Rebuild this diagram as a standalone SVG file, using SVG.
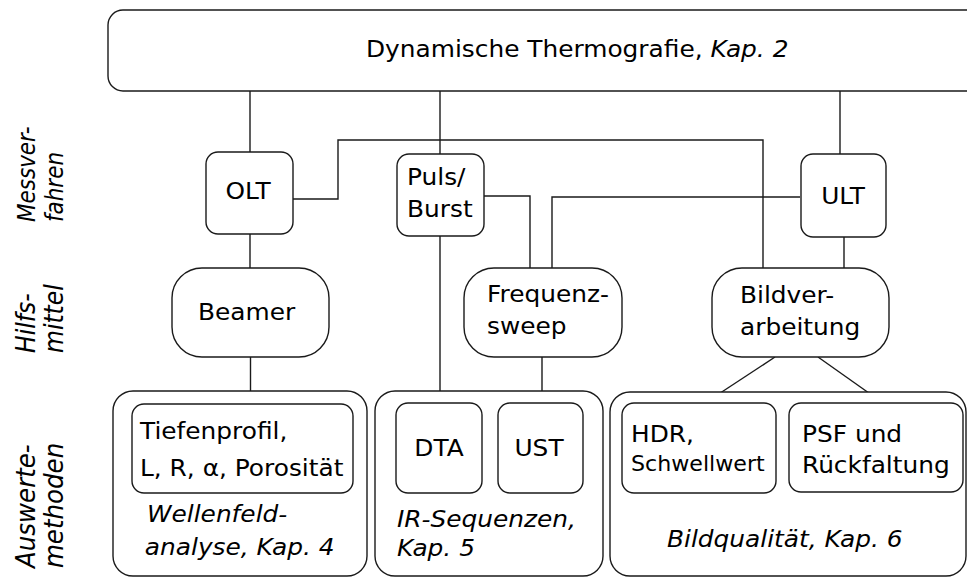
<svg xmlns="http://www.w3.org/2000/svg" width="967" height="577" viewBox="0 0 967 577">
<style>
  rect { fill: #fff; stroke: #1a1a1a; stroke-width: 1.4; }
  .c line, .c polyline { fill: none; stroke: #1a1a1a; stroke-width: 1.4; }
  text { font-family: "DejaVu Sans", "Liberation Sans", sans-serif; font-size: 23px; fill: #000; }
  .i { font-style: italic; }
  .s { font-size: 20.5px; }
  .r1 { font-size: 21.5px; }
  .r2 { font-size: 23.5px; }
  .r3 { font-size: 24.5px; }
</style>
<rect x="0" y="0" width="967" height="577" style="fill:#fff;stroke:none"/>

<g class="c" id="connectors">
  <line x1="250" y1="91" x2="250" y2="152"/>
  <line x1="250" y1="234" x2="250" y2="268"/>
  <line x1="250.5" y1="357" x2="250.5" y2="404"/>
  <line x1="440" y1="91" x2="440" y2="154"/>
  <line x1="440" y1="236" x2="440" y2="403"/>
  <line x1="840" y1="91" x2="840" y2="154"/>
  <line x1="844" y1="237" x2="844" y2="268"/>
  <polyline points="293,199 338,199 338,140 763,140 763,268"/>
  <polyline points="484,196 530,196 530,268"/>
  <polyline points="800,197 552,197 552,268"/>
  <line x1="542" y1="357" x2="542" y2="403"/>
  <line x1="775" y1="357" x2="705" y2="403"/>
  <line x1="818" y1="357" x2="883" y2="403"/>
</g>

<g id="labels">
  <text class="i r1" transform="translate(35,222) scale(1.12,1) rotate(-90)">Messver-</text>
  <text class="i r1" transform="translate(63,222) scale(1.12,1) rotate(-90)">fahren</text>
  <text class="i r2" transform="translate(35,353) scale(1.1,1) rotate(-90)">Hilfs-</text>
  <text class="i r2" transform="translate(63,353) scale(1.1,1) rotate(-90)">mittel</text>
  <text class="i r3" transform="translate(35,568) scale(1.05,1) rotate(-90)">Auswerte-</text>
  <text class="i r3" transform="translate(63,568) scale(1.05,1) rotate(-90)">methoden</text>
</g>

<g id="top">
  <rect x="108" y="10" width="880" height="81" rx="15"/>
  <text transform="translate(366,57) scale(1.08,1)">Dynamische Thermografie, <tspan class="i">Kap. 2</tspan></text>
</g>

<g id="olt">
  <rect x="206" y="152" width="87" height="82" rx="12"/>
  <text transform="translate(248,199) scale(1.08,1)" text-anchor="middle">OLT</text>
</g>
<g id="puls">
  <rect x="397" y="154" width="87" height="82" rx="12"/>
  <text transform="translate(407,185) scale(1.08,1)">Puls/<tspan x="0" y="32">Burst</tspan></text>
</g>
<g id="ult">
  <rect x="801" y="154" width="85" height="83" rx="12"/>
  <text transform="translate(843,204) scale(1.08,1)" text-anchor="middle">ULT</text>
</g>

<g id="beamer">
  <rect x="172" y="268" width="157" height="89" rx="30"/>
  <text transform="translate(198,320) scale(1.08,1)">Beamer</text>
</g>
<g id="freq">
  <rect x="464" y="268" width="158" height="89" rx="30"/>
  <text transform="translate(487,302) scale(1.08,1)">Frequenz-<tspan x="0" y="32">sweep</tspan></text>
</g>
<g id="bild">
  <rect x="712" y="268" width="177" height="89" rx="30"/>
  <text transform="translate(740,303) scale(1.08,1)">Bildver-<tspan x="0" y="32">arbeitung</tspan></text>
</g>

<g id="wellenfeld">
  <rect x="113" y="391" width="254" height="185" rx="20"/>
  <text class="i" transform="translate(147,522) scale(1.08,1)">Wellenfeld-<tspan x="-2" y="33">analyse, Kap. 4</tspan></text>
</g>
<g id="tiefenprofil">
  <rect x="132" y="404" width="221" height="89" rx="12"/>
  <text transform="translate(140,439) scale(1.08,1)">Tiefenprofil,<tspan x="0" y="37">L, R, α, Porosität</tspan></text>
</g>

<g id="irseq">
  <rect x="375" y="391" width="228" height="185" rx="20"/>
  <text class="i" transform="translate(397,527) scale(1.08,1)">IR-Sequenzen,<tspan x="0" y="29">Kap. 5</tspan></text>
</g>
<g id="dta">
  <rect x="396" y="403" width="86" height="90" rx="12"/>
  <text transform="translate(439,456) scale(1.08,1)" text-anchor="middle">DTA</text>
</g>
<g id="ust">
  <rect x="498" y="403" width="85" height="90" rx="12"/>
  <text transform="translate(539,456) scale(1.08,1)" text-anchor="middle">UST</text>
</g>

<g id="bildqualitaet">
  <rect x="610" y="392" width="356" height="184" rx="20"/>
  <text class="i" transform="translate(667,547) scale(1.08,1)">Bildqualität, Kap. 6</text>
</g>
<g id="hdr">
  <rect x="622" y="403" width="154" height="90" rx="12"/>
  <text transform="translate(631,442) scale(1.08,1)">HDR,<tspan class="s" x="0" y="29">Schwellwert</tspan></text>
</g>
<g id="psf">
  <rect x="789" y="403" width="174" height="89" rx="12"/>
  <text transform="translate(802,442) scale(1.08,1)">PSF und<tspan x="0" y="31">Rückfaltung</tspan></text>
</g>
</svg>
